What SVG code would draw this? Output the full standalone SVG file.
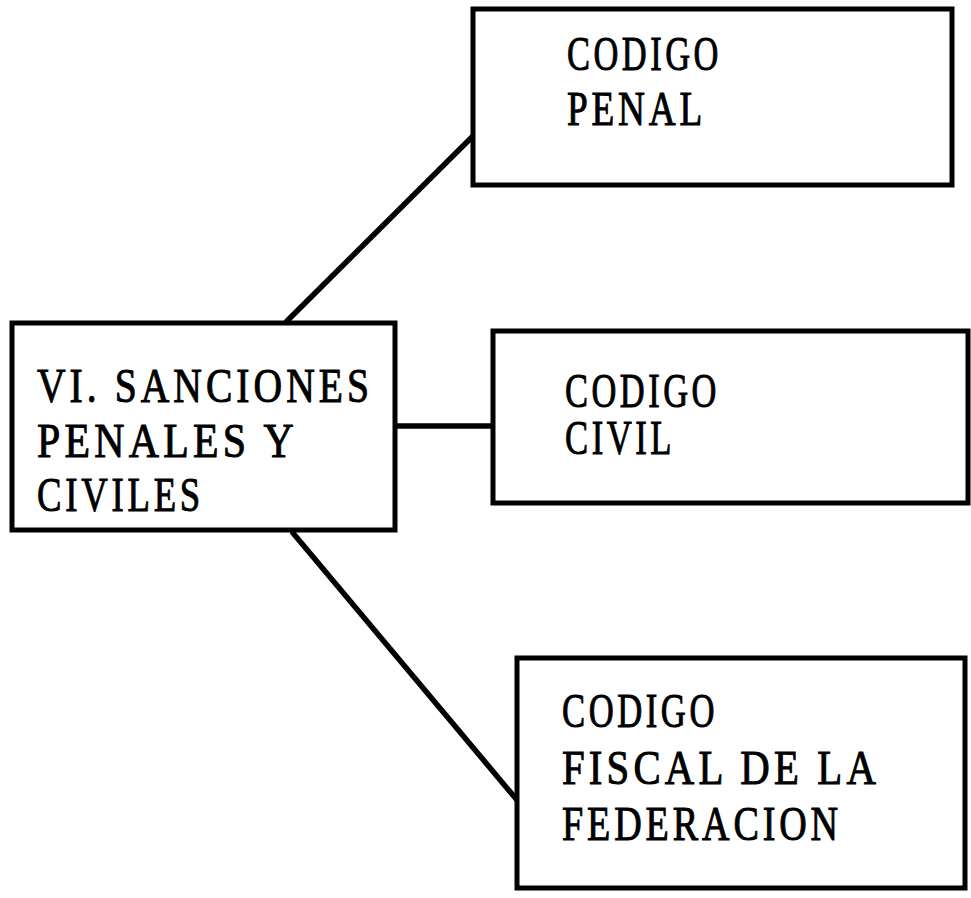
<svg xmlns="http://www.w3.org/2000/svg" width="971" height="898" viewBox="0 0 971 898">
<style>
.box{fill:#fff;stroke:#000;stroke-width:5}
.con{stroke:#000;stroke-width:5.5;fill:none;stroke-linecap:round}
.t{font-family:"Liberation Serif","Times New Roman",serif;font-size:49px;letter-spacing:5px;fill:#000;stroke:#000;stroke-width:1}
</style>
<rect width="971" height="898" fill="#fff"/>
<g id="connectors">
<line class="con" x1="287" y1="321" x2="473" y2="136"/>
<line class="con" x1="395" y1="426" x2="493" y2="426"/>
<line class="con" x1="293" y1="533" x2="517" y2="800"/>
</g>
<g id="node-sanciones">
<rect class="box" x="12" y="323" width="383" height="207"/>
<text class="t" x="37" y="402" textLength="336" lengthAdjust="spacingAndGlyphs">VI. SANCIONES</text>
<text class="t" x="37" y="457" textLength="261" lengthAdjust="spacingAndGlyphs">PENALES Y</text>
<text class="t" x="37" y="511" textLength="167" lengthAdjust="spacingAndGlyphs">CIVILES</text>
</g>
<g id="node-penal">
<rect class="box" x="473" y="9" width="479" height="176"/>
<text class="t" x="567" y="70" textLength="155" lengthAdjust="spacingAndGlyphs">CODIGO</text>
<text class="t" x="567" y="125" textLength="139" lengthAdjust="spacingAndGlyphs">PENAL</text>
</g>
<g id="node-civil">
<rect class="box" x="493" y="331" width="475" height="172"/>
<text class="t" x="565" y="407" textLength="155" lengthAdjust="spacingAndGlyphs">CODIGO</text>
<text class="t" x="565" y="454" textLength="110" lengthAdjust="spacingAndGlyphs">CIVIL</text>
</g>
<g id="node-fiscal">
<rect class="box" x="517" y="658" width="448" height="230"/>
<text class="t" x="562" y="727" textLength="156" lengthAdjust="spacingAndGlyphs">CODIGO</text>
<text class="t" x="562" y="784" textLength="318" lengthAdjust="spacingAndGlyphs">FISCAL DE LA</text>
<text class="t" x="562" y="840" textLength="280" lengthAdjust="spacingAndGlyphs">FEDERACION</text>
</g>
</svg>
